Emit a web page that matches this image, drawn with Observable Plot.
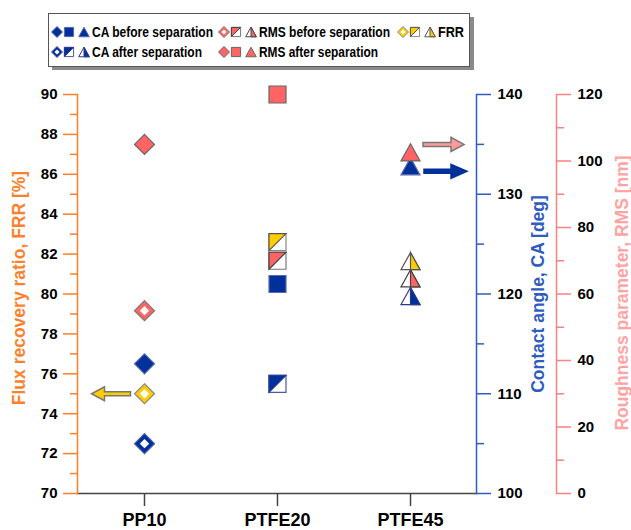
<!DOCTYPE html>
<html><head><meta charset="utf-8">
<script src="https://cdn.jsdelivr.net/npm/d3@7"></script>
<script src="https://cdn.jsdelivr.net/npm/@observablehq/plot@0.6"></script>
<style>
body{margin:0;background:#fff;}
#chart{width:631px;}
#chart svg{display:block;}
</style></head><body><div id="chart"></div>
<script>
// ---------- data ----------
const categories = ["PP10", "PTFE20", "PTFE45"];
const caBefore  = [113, 121, 132.8];     // deg
const caAfter   = [105, 111, 119.8];     // deg
const rmsBefore = [55, 70, 64.7];        // nm
const rmsAfter  = [105, 120, 102.6];     // nm
const frr       = [75.0, 82.6, 81.65];   // %
const frrTicks  = [70, 72, 74, 76, 78, 80, 82, 84, 86, 88, 90];
const frrMinor  = [71, 73, 75, 77, 79, 81, 83, 85, 87, 89];
const caTicks   = [100, 110, 120, 130, 140];
const caMinor   = [105, 115, 125, 135];
const rmsTicks  = [0, 20, 40, 60, 80, 100, 120];
const rmsMinor  = [10, 30, 50, 70, 90, 110];
// annotation arrows (category, value on its own axis)
const arrowFrrCat = "PP10",   arrowFrrVal = 75;
const arrowRmsCat = "PTFE45", arrowRmsVal = 105;
const arrowCaCat  = "PTFE45", arrowCaVal  = 132.3;

// ---------- scales between axes ----------
const caToY  = v => 70 + (v - 100) / 2;
const yToCa  = y => Math.round((y - 70) * 2 + 100);
const rmsToY = v => 70 + v / 6;
const yToRms = y => Math.round((y - 70) * 6);

// ---------- styles ----------
const FONT = "'Liberation Sans', Arial, sans-serif";
const ORANGE = "#ff7f2a", BLUEAX = "#2f5cc0", PINKAX = "#ff8080", PINKT = "#ffa3a3";
const NAVY = "#00309a", PINK = "#ff6464", YEL = "#ffcc00";

// ---------- custom symbols ----------
const shapeFns = {
  diamond: (c, r) => { c.moveTo(0, -r); c.lineTo(r, 0); c.lineTo(0, r); c.lineTo(-r, 0); c.closePath(); },
  square: (c, r) => { c.moveTo(-r, -r); c.lineTo(r, -r); c.lineTo(r, r); c.lineTo(-r, r); c.closePath(); },
  halfSquare: (c, r) => { c.moveTo(-r, -r); c.lineTo(r, -r); c.lineTo(-r, r); c.closePath(); },
  triangle: (c, r) => { c.moveTo(0, -0.9 * r); c.lineTo(r, 0.9 * r); c.lineTo(-r, 0.9 * r); c.closePath(); },
  halfTriangle: (c, r) => { c.moveTo(0, -0.9 * r); c.lineTo(r, 0.9 * r); c.lineTo(0, 0.9 * r); c.closePath(); }
};
const SYM = {};
for (const k in shapeFns) SYM[k] = {draw(ctx, size) { shapeFns[k](ctx, Math.sqrt(size / Math.PI)); }};
function arrowSym(len, headLen, headHalf, shaftHalf, dir) {
  return {draw(c) {
    const a = -len / 2 * dir, t = len / 2 * dir, h = (len / 2 - headLen) * dir;
    c.moveTo(a, -shaftHalf); c.lineTo(h, -shaftHalf); c.lineTo(h, -headHalf); c.lineTo(t, 0);
    c.lineTo(h, headHalf); c.lineTo(h, shaftHalf); c.lineTo(a, shaftHalf); c.closePath();
  }};
}
const catShape = {PP10: "diamond", PTFE20: "square", PTFE45: "triangle"};
const baseR = {diamond: 10, square: 8.5, triangle: 9.5};

function markerParts(shape, open, color, stroke, stroke2) {
  if (!open) return [{s: shape, k: 1, fill: color, stroke}];
  if (shape === "diamond") return [{s: "diamond", k: 1, fill: color, stroke}, {s: "diamond", k: 0.47, fill: "white", stroke: "none"}];
  if (shape === "square") return [{s: "square", k: 1, fill: "white", stroke}, {s: "halfSquare", k: 1, fill: color, stroke: stroke2}];
  return [{s: "triangle", k: 1, fill: "white", stroke: stroke2}, {s: "halfTriangle", k: 1, fill: color, stroke: stroke2}];
}

const series = [
  {vals: caAfter,   conv: caToY,  color: NAVY, stroke: "#4a5aa8", stroke2: "#2a3a8a", open: true},
  {vals: rmsBefore, conv: rmsToY, color: PINK, stroke: "#777",    stroke2: "#444",    open: true},
  {vals: frr,       conv: v => v, color: YEL,  stroke: "#888",    stroke2: "#555",    open: true},
  {vals: caBefore,  conv: caToY,  color: NAVY, stroke: "#5a68b0", stroke2: "#5a68b0", open: false},
  {vals: rmsAfter,  conv: rmsToY, color: PINK, stroke: "#666",    stroke2: "#666",    open: false}
];

const marks = [];
// axis lines
marks.push(Plot.frame({anchor: "bottom", stroke: "#444", strokeWidth: 1.5}));
marks.push(Plot.frame({anchor: "left", stroke: ORANGE, strokeWidth: 1.5}));
marks.push(Plot.frame({anchor: "right", stroke: BLUEAX, strokeWidth: 1.5}));
marks.push(Plot.frame({anchor: "right", stroke: PINKAX, strokeWidth: 1.5, dx: 80}));
// axes
const axText = {fontSize: 15, fontWeight: "bold", fill: "black", label: null};
marks.push(Plot.axisY({anchor: "left", ticks: frrTicks, tickSize: 14, tickPadding: 6, stroke: ORANGE, strokeWidth: 1.5, ...axText}));
marks.push(Plot.axisY({anchor: "left", ticks: frrMinor, tickSize: 7, tickFormat: () => "", stroke: ORANGE, strokeWidth: 1.5, label: null}));
marks.push(Plot.axisY({anchor: "right", ticks: caTicks.map(caToY), tickFormat: yToCa, tickSize: 14, tickPadding: 7, stroke: BLUEAX, strokeWidth: 1.5, ...axText}));
marks.push(Plot.axisY({anchor: "right", ticks: caMinor.map(caToY), tickSize: 7, tickFormat: () => "", stroke: BLUEAX, strokeWidth: 1.5, label: null}));
marks.push(Plot.axisY({anchor: "right", dx: 80, ticks: rmsTicks.map(rmsToY), tickFormat: yToRms, tickSize: 14, tickPadding: 7, stroke: PINKAX, strokeWidth: 1.5, ...axText}));
marks.push(Plot.axisY({anchor: "right", dx: 80, ticks: rmsMinor.map(rmsToY), tickSize: 7, tickFormat: () => "", stroke: PINKAX, strokeWidth: 1.5, label: null}));
marks.push(Plot.axisX({tickSize: 13, tickPadding: 7, stroke: "#444", strokeWidth: 1.5, fontSize: 18, fontWeight: "bold", fill: "black", label: null}));
// axis titles
const titleOpt = {textAnchor: "middle", rotate: -90, fontWeight: "bold", fontSize: 17.5};
marks.push(Plot.text(["Flux recovery ratio, FRR [%]"], {...titleOpt, frameAnchor: "left", dx: -58, dy: -6, fill: ORANGE}));
marks.push(Plot.text(["Contact angle, CA [deg]"], {...titleOpt, frameAnchor: "right", dx: 62, fill: BLUEAX}));
marks.push(Plot.text(["Roughness parameter, RMS [nm]"], {...titleOpt, frameAnchor: "right", dx: 146, dy: -1, fill: PINKT}));

// arrows
marks.push(Plot.dot([{cat: arrowFrrCat, y: arrowFrrVal}], {x: "cat", y: "y", r: 1, symbol: arrowSym(39, 13, 7, 2, -1), dx: -33.5, fill: YEL, stroke: "#777"}));
marks.push(Plot.dot([{cat: arrowRmsCat, y: rmsToY(arrowRmsVal)}], {x: "cat", y: "y", r: 1, symbol: arrowSym(41, 13, 7, 2, 1), dx: 33, fill: "#ff9a9a", stroke: "#777"}));
marks.push(Plot.dot([{cat: arrowCaCat, y: caToY(arrowCaVal)}], {x: "cat", y: "y", r: 1, symbol: arrowSym(43, 16, 7, 2, 1), dx: 35, fill: NAVY, stroke: NAVY}));

// data markers
for (const s of series) {
  categories.forEach((cat, i) => {
    const shape = catShape[cat];
    for (const p of markerParts(shape, s.open, s.color, s.stroke, s.stroke2)) {
      marks.push(Plot.dot([{cat, y: s.conv(s.vals[i])}], {
        x: "cat", y: "y", symbol: SYM[p.s], r: baseR[shape] * p.k,
        fill: p.fill, stroke: p.stroke, strokeWidth: 1.2
      }));
    }
  });
}

const plot = Plot.plot({
  width: 631, height: 455,
  marginLeft: 77, marginRight: 155, marginTop: 19, marginBottom: 37,
  x: {type: "point", domain: categories, padding: 0.5, label: null},
  y: {domain: [70, 90], label: null},
  style: {fontFamily: FONT, fontSize: "15px", color: "black", background: "white", overflow: "visible"},
  marks
});

// ---------- legend (above the plot) ----------
const legend = d3.create("svg").attr("width", 631).attr("height", 75).style("display", "block");
legend.append("rect").attr("x", 52).attr("y", 17).attr("width", 422).attr("height", 53).attr("fill", "#8a8a8a");
legend.append("rect").attr("x", 48.5).attr("y", 13.5).attr("width", 421).attr("height", 53).attr("fill", "white").attr("stroke", "#555");
const legendEntries = [
  {label: "CA before separation",  s: series[3]},
  {label: "RMS before separation", s: series[1]},
  {label: "FRR",                   s: series[2]},
  {label: "CA after separation",   s: series[0]},
  {label: "RMS after separation",  s: series[4]}
];
const legendTextWidth = [121, 131, 26, 110, 119];
const colX = [57, 224, 403];
const rowY = [32, 52];
const legR = {diamond: 5.5, square: 4.6, triangle: 5.3};
legendEntries.forEach((e, j) => {
  const row = j < 3 ? 0 : 1, col = j < 3 ? j : j - 3;
  const x0 = colX[col], y0 = rowY[row];
  categories.forEach((cat, i) => {
    const shape = catShape[cat];
    const cx = x0 + [0, 12, 27][i];
    for (const p of markerParts(shape, e.s.open, e.s.color, e.s.stroke, e.s.stroke2)) {
      const path = d3.path();
      shapeFns[p.s](path, legR[shape] * p.k);
      legend.append("path").attr("d", path.toString()).attr("transform", `translate(${cx},${y0})`)
        .attr("fill", p.fill).attr("stroke", p.stroke).attr("stroke-width", 1);
    }
  });
  legend.append("text").attr("x", x0 + 35).attr("y", y0).attr("dy", "0.36em")
    .attr("font-family", FONT).attr("font-weight", "bold")
    .attr("font-size", 15).attr("fill", "black")
    .attr("textLength", legendTextWidth[j]).attr("lengthAdjust", "spacingAndGlyphs")
    .text(e.label);
});

const root = document.getElementById("chart");
root.appendChild(legend.node());
root.appendChild(plot);
</script>
</body></html>
